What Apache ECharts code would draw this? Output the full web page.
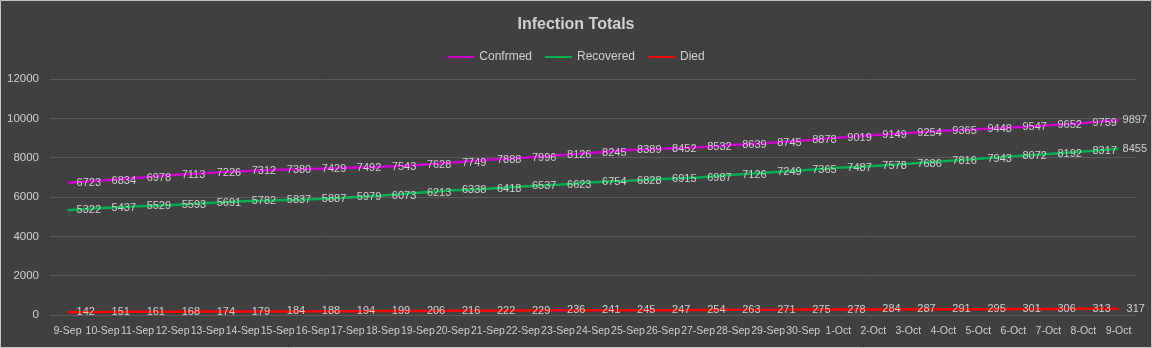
<!DOCTYPE html>
<html>
<head>
<meta charset="utf-8">
<script src="https://cdn.jsdelivr.net/npm/echarts@6/dist/echarts.min.js"></script>
<style>
html,body{margin:0;padding:0;background:#404040;}
#chart{width:1152px;height:348px;}
</style>
</head>
<body>
<div id="chart"></div>
<script>
const categories = ['9-Sep','10-Sep','11-Sep','12-Sep','13-Sep','14-Sep','15-Sep','16-Sep','17-Sep','18-Sep','19-Sep','20-Sep','21-Sep','22-Sep','23-Sep','24-Sep','25-Sep','26-Sep','27-Sep','28-Sep','29-Sep','30-Sep','1-Oct','2-Oct','3-Oct','4-Oct','5-Oct','6-Oct','7-Oct','8-Oct','9-Oct'];
const confirmed = [6723,6834,6978,7113,7226,7312,7380,7429,7492,7543,7628,7749,7888,7996,8126,8245,8389,8452,8532,8639,8745,8878,9019,9149,9254,9365,9448,9547,9652,9759,9897];
const recovered = [5322,5437,5529,5593,5691,5782,5837,5887,5979,6073,6213,6338,6418,6537,6623,6754,6828,6915,6987,7126,7249,7365,7487,7578,7686,7816,7943,8072,8192,8317,8455];
const died = [142,151,161,168,174,179,184,188,194,199,206,216,222,229,236,241,245,247,254,263,271,275,278,284,287,291,295,301,306,313,317];
const seriesNames = ['Confrmed','Recovered','Died'];
const colors = ['#cc00cc','#00b050','#ff0000'];

const FONT = 'Liberation Sans';
const TXT = '#d0d0d0';

function mk(name, data, color, lastDist){
  const items = data.map(function(v, i){
    if (i === data.length - 1) return {value: v, label: {distance: lastDist}};
    return v;
  });
  return {
    name: name, type: 'line', data: items,
    symbol: 'circle', symbolSize: 0.1, showSymbol: true,
    lineStyle: {color: color, width: 2.5},
    itemStyle: {color: color},
    label: {show: true, position: 'right', distance: 9, color: TXT, fontFamily: FONT, fontSize: 11},
    emphasis: {disabled: true},
    animation: false
  };
}

const chart = echarts.init(document.getElementById('chart'), null, {renderer: 'canvas'});
chart.setOption({
  backgroundColor: '#404040',
  animation: false,
  title: {
    text: 'Infection Totals', left: 'center', top: 12,
    textStyle: {color: TXT, fontFamily: FONT, fontSize: 16, fontWeight: 'bold'}
  },
  legend: {
    data: seriesNames, left: 'center', top: 46,
    icon: 'rect', itemWidth: 27, itemHeight: 2, itemGap: 13,
    textStyle: {color: TXT, fontFamily: FONT, fontSize: 12}
  },
  graphic: [{
    type: 'rect', silent: true, z: 100,
    shape: {x: 0.5, y: 0.5, width: 1151, height: 347},
    style: {fill: 'none', stroke: '#c8c8c8', lineWidth: 1}
  }],
  grid: {left: 50, right: 16, top: 79, bottom: 33, containLabel: false},
  xAxis: {
    type: 'category', data: categories, boundaryGap: true,
    axisLine: {show: false}, axisTick: {show: false},
    axisLabel: {color: TXT, fontFamily: FONT, fontSize: 10.5, interval: 0, margin: 11}
  },
  yAxis: {
    type: 'value', min: 0, max: 12000, interval: 2000,
    axisLine: {show: false}, axisTick: {show: false},
    axisLabel: {color: TXT, fontFamily: FONT, fontSize: 11.5, margin: 11, formatter: function(v){ return String(v); }},
    splitLine: {lineStyle: {color: '#5a5a5a', width: 1}}
  },
  series: [
    mk(seriesNames[0], confirmed, colors[0], 4),
    mk(seriesNames[1], recovered, colors[1], 4),
    mk(seriesNames[2], died, colors[2], 8)
  ]
});
</script>
</body>
</html>
